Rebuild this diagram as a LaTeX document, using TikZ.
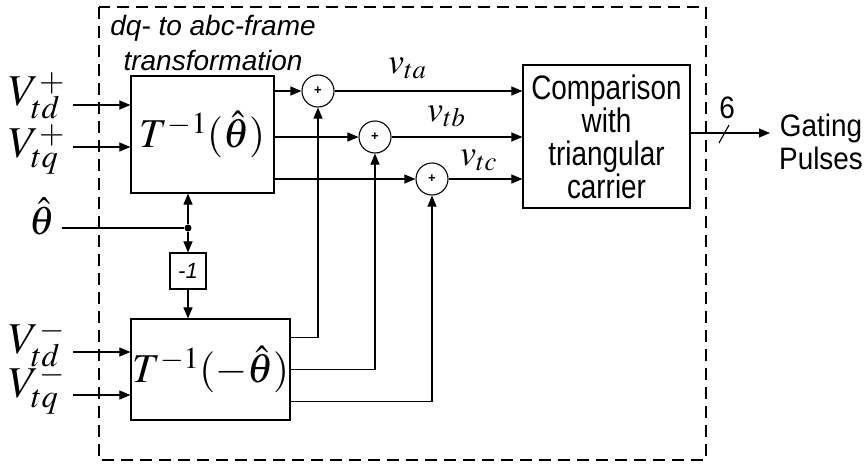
\documentclass[tikz,border=0pt]{standalone}
\usepackage{mathptmx}
\usepackage[no-math]{fontspec}
\setmainfont{Liberation Sans}
\newfontfamily\tallsans[FakeStretch=0.82]{Liberation Sans}
\newfontfamily\medsans[FakeStretch=0.9]{Liberation Sans}
\usetikzlibrary{arrows.meta,calc}
\newcommand{\VV}[2]{V^{\smash{\raisebox{-2pt}{$\scriptstyle #1$}}}_{#2}}
\tikzset{
  ln/.style={line width=1.1pt},
  arr/.style={ln,-{Triangle[length=11pt,width=9pt]}},
  blk/.style={draw,line width=1.2pt,inner sep=0pt},
  sumc/.style={draw,circle,line width=1.1pt,minimum size=32pt,inner sep=0pt,
    font=\fontsize{13}{13}\selectfont\bfseries},
  frame/.style={line width=1.5pt,dash pattern=on 12pt off 7pt},
  txt/.style={inner sep=0pt,font=\fontsize{28}{33}\selectfont,align=center},
  bigmath/.style={inner sep=0pt,font=\fontsize{44}{50}\selectfont},
  tmath/.style={inner sep=0pt,font=\fontsize{41}{50}\selectfont},
  midmath/.style={inner sep=0pt,font=\fontsize{36}{40}\selectfont},
}
\begin{document}
\begin{tikzpicture}[x=1pt,y=-1pt]
\useasboundingbox (0,0) rectangle (866,463);
\draw[frame] (99,7) rectangle (706,460);
\node[txt,font=\fontsize{28}{35}\selectfont\itshape] (ttl) at (213,42.5) {dq- to abc-frame\\transformation};

% blocks
\node[blk,minimum width=143pt,minimum height=117pt,tmath] (Tp) at (202.5,134.5) {$T^{-1}(\hat{\theta})$};
\node[blk,minimum width=159pt,minimum height=101pt,tmath] (Tn) at (210.5,369.5) {$T^{-1}(-\hat{\theta})$};
\node[blk,minimum width=36pt,minimum height=36pt,font=\fontsize{22}{22}\selectfont\itshape] (neg) at (188,271) {-1};
\node[blk,minimum width=167pt,minimum height=143pt,txt,font=\tallsans\fontsize{34}{33}\selectfont] (C) at (606.5,136.5) {Comparison\\with\\triangular\\carrier};

% summing junctions
\node[sumc] (s1) at (318,91) {+};
\node[sumc] (s2) at (375,137) {+};
\node[sumc] (s3) at (432,179) {+};

% inputs
\coordinate (i1) at (73,105);
\coordinate (i2) at (73,147);
\coordinate (i3) at (73,352);
\coordinate (i4) at (73,395);
\draw[arr] (i1) -- (i1 -| Tp.west);
\draw[arr] (i2) -- (i2 -| Tp.west);
\draw[arr] (i3) -- (i3 -| Tn.west);
\draw[arr] (i4) -- (i4 -| Tn.west);
\node[bigmath,anchor=base east] (l1) at (65,105) {$\VV{+}{td}$};
\node[bigmath,anchor=base east] (l2) at (65,157) {$\VV{+}{tq}$};
\node[bigmath,anchor=base east] (l3) at (65,353) {$\VV{-}{td}$};
\node[bigmath,anchor=base east] (l4) at (65,397) {$\VV{-}{tq}$};

% theta
\coordinate (th) at (62,228);
\node[circle,fill,inner sep=0pt,minimum size=7pt] (dot) at (188,228) {};
\node[inner sep=0pt,font=\fontsize{40}{40}\selectfont,anchor=base east] (lth) at (55,234) {$\hat{\theta}$};
\draw[ln] (th) -- (dot);
\draw[arr] (dot) -- (dot |- Tp.south);
\draw[arr] (dot) -- (neg);
\draw[arr] (neg) -- (neg |- Tn.north);

% upper outputs to sums
\draw[arr] (s1 -| Tp.east) -- (s1);
\draw[arr] (s2 -| Tp.east) -- (s2);
\draw[arr] (s3 -| Tp.east) -- (s3);
% lower outputs to sums
\draw[arr] ([yshift=32pt]Tn.east) -| (s1);
\draw[arr] (Tn.east) -| (s2);
\draw[arr] ([yshift=-32pt]Tn.east) -| (s3);
% sums to comparison
\draw[arr] (s1) -- (s1 -| C.west);
\draw[arr] (s2) -- (s2 -| C.west);
\draw[arr] (s3) -- (s3 -| C.west);
\node[midmath,anchor=base west] (va) at (388,73) {$v_{ta}$};
\node[midmath,anchor=base west] (vb) at (427,121) {$v_{tb}$};
\node[midmath,anchor=base west] (vc) at (460,165) {$v_{tc}$};

% output
\coordinate (g) at (770,133);
\draw[arr] (C.east |- g) -- (g);
\draw[ln] (719,143) -- (729,125);
\node[txt,font=\medsans\fontsize{31}{33}\selectfont] (six) at (727,108) {6};
\node[txt,font=\medsans\fontsize{31}{33}\selectfont] (gp) at (821,141.5) {Gating\\Pulses};
\end{tikzpicture}
\end{document}
